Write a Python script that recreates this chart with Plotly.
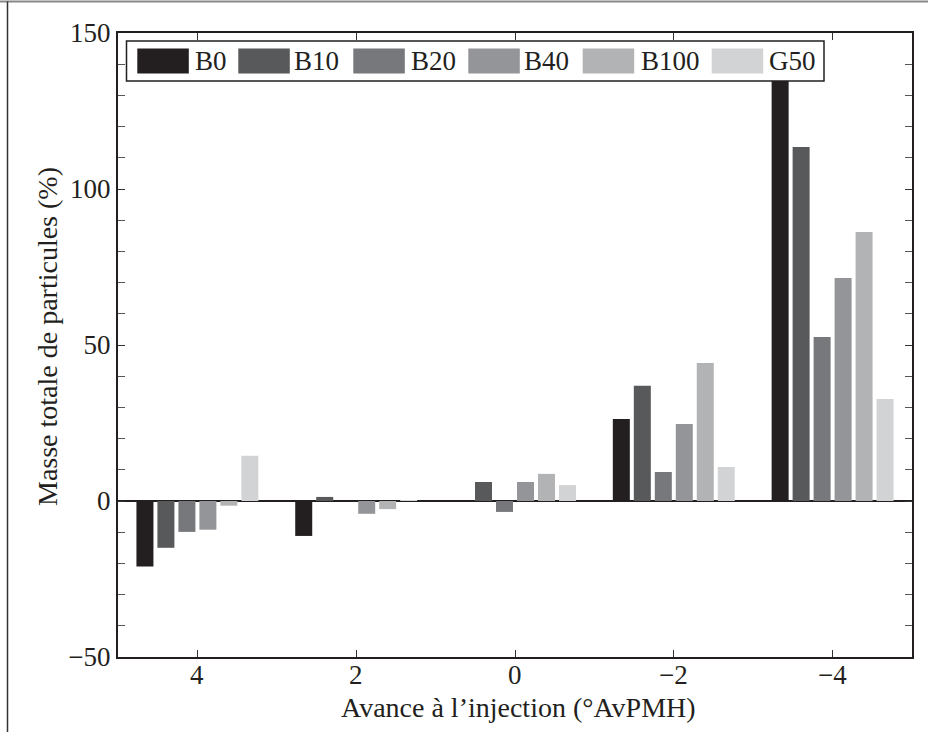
import plotly.graph_objects as go

# ---- data ----
categories = ["4", "2", "0", "−2", "−4"]
series = ["B0", "B10", "B20", "B40", "B100", "G50"]
colors = ["#231f20", "#58595b", "#77787b", "#939598", "#b1b3b5", "#d1d3d4"]
b0 = [-21.0, -11.2, 0.0, 26.3, 140.0]
b10 = [-15.0, 1.3, 6.1, 36.9, 113.5]
b20 = [-9.9, 0.0, -3.5, 9.3, 52.6]
b40 = [-9.2, -4.1, 6.1, 24.7, 71.5]
b100 = [-1.5, -2.6, 8.7, 44.2, 86.2]
g50 = [14.5, 0.3, 5.1, 10.9, 32.7]
values = [b0, b10, b20, b40, b100, g50]
y_ticks = [-50, 0, 50, 100, 150]

# ---- layout geometry (pixels) ----
W, H = 928, 732
L, R, T, B = 118, 16, 33, 75
PW, PH = W - L - R, H - T - B
FONT = "Liberation Serif, Times New Roman, Times, serif"


def px(x):
    return (x - L) / PW


def py(y):
    return (H - B - y) / PH


fig = go.Figure()
for name, vals, col in zip(series, values, colors):
    fig.add_trace(go.Bar(x=categories, y=vals, name=name, marker=dict(color=col, line=dict(width=0)),
                         showlegend=False))

shapes = []
annotations = []

# custom MATLAB-like legend
leg_box = (126.5, 41, 824, 81)
sw_x = [137.3, 238.3, 353.3, 468.3, 582.7, 711.7]
tx_x = [193, 291.7, 409, 522, 639, 767]
sw_w, sw_top, sw_bot = 51.5, 48.5, 73.5
shapes.append(dict(type="rect", xref="paper", yref="paper", layer="above",
                   x0=px(leg_box[0]), x1=px(leg_box[2]), y0=py(leg_box[3]), y1=py(leg_box[1]),
                   fillcolor="white", line=dict(color="#231f20", width=1.5)))
for name, col, sx, tx in zip(series, colors, sw_x, tx_x):
    shapes.append(dict(type="rect", xref="paper", yref="paper", layer="above",
                       x0=px(sx), x1=px(sx + sw_w), y0=py(sw_bot), y1=py(sw_top),
                       fillcolor=col, line=dict(width=0)))
    annotations.append(dict(text=name, xref="paper", yref="paper", x=px(tx), y=py(61.5),
                            xanchor="left", yanchor="middle", showarrow=False,
                            font=dict(family=FONT, size=27, color="#231f20")))

# outer frame (top and left)
shapes.append(dict(type="line", xref="paper", yref="paper", layer="above",
                   x0=px(0), x1=px(W), y0=py(1.5), y1=py(1.5), line=dict(color="#888888", width=2)))
shapes.append(dict(type="line", xref="paper", yref="paper", layer="above",
                   x0=px(7.5), x1=px(7.5), y0=py(1.5), y1=py(H), line=dict(color="#333333", width=1.5)))

# x tick labels (placed closer to the axis, MATLAB style); x = category index
for i, c in enumerate(categories):
    annotations.append(dict(text=c, xref="x", yref="paper", x=i, y=py(675),
                            xanchor="center", yanchor="middle", showarrow=False,
                            font=dict(family=FONT, size=27, color="#231f20")))

# axis titles
annotations.append(dict(text="Avance à l’injection (°AvPMH)", xref="paper", yref="paper",
                        x=px(518), y=py(707), xanchor="center", yanchor="middle", showarrow=False,
                        font=dict(family=FONT, size=28, color="#231f20")))
annotations.append(dict(text="Masse totale de particules (%)", xref="paper", yref="paper",
                        x=px(47), y=py(337), xanchor="center", yanchor="middle", showarrow=False,
                        textangle=-90, font=dict(family=FONT, size=28, color="#231f20")))

fig.update_layout(
    width=W, height=H, autosize=False,
    margin=dict(l=L, r=R, t=T, b=B, pad=0),
    paper_bgcolor="white", plot_bgcolor="white",
    barmode="group", bargap=0.207, bargroupgap=0.19,
    font=dict(family=FONT, size=27, color="#231f20"),
    shapes=shapes, annotations=annotations,
    xaxis=dict(type="category", range=[-0.5, 4.5], showgrid=False, zeroline=False,
               showline=True, linecolor="#231f20", linewidth=2, mirror="ticks",
               ticks="inside", ticklen=7, tickwidth=1, tickcolor="#333333",
               showticklabels=False),
    yaxis=dict(range=[-50, 150], tickvals=y_ticks, showgrid=False,
               zeroline=True, zerolinecolor="#231f20", zerolinewidth=2,
               showline=True, linecolor="#231f20", linewidth=2, mirror="ticks",
               ticks="inside", ticklen=7, tickwidth=1, tickcolor="#333333",
               minor=dict(dtick=10, ticks="inside", ticklen=7, tickwidth=1, tickcolor="#555555", showgrid=False),
               tickfont=dict(family=FONT, size=27, color="#231f20")),
)

fig.write_html("out.html", config={"displayModeBar": False},
               post_script="document.body.style.margin='0';document.body.style.padding='0';")
